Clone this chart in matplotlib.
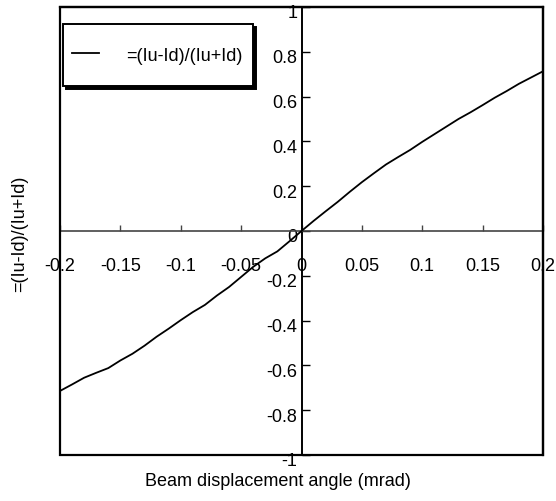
import matplotlib
matplotlib.use("Agg")
import numpy as np
import matplotlib.pyplot as plt
from matplotlib.patches import Rectangle
from matplotlib.transforms import ScaledTranslation
from matplotlib.legend_handler import HandlerLine2D
from matplotlib.lines import Line2D

plt.rcParams['font.family'] = ['Liberation Sans', 'DejaVu Sans']
plt.rcParams['axes.unicode_minus'] = False

# Data
angle = [-0.20, -0.19, -0.18, -0.17, -0.16, -0.15, -0.14, -0.13, -0.12, -0.11,
         -0.10, -0.09, -0.08, -0.07, -0.06, -0.05, -0.04, -0.03, -0.02, -0.01,
         0.00, 0.01, 0.02, 0.03, 0.04, 0.05, 0.06, 0.07, 0.08, 0.09,
         0.10, 0.11, 0.12, 0.13, 0.14, 0.15, 0.16, 0.17, 0.18, 0.19, 0.20]
ratio = [-0.714, -0.685, -0.655, -0.633, -0.612, -0.578, -0.548, -0.512, -0.472, -0.436,
         -0.398, -0.362, -0.330, -0.288, -0.250, -0.205, -0.160, -0.122, -0.091, -0.046,
         0.000, 0.045, 0.088, 0.130, 0.175, 0.218, 0.258, 0.297, 0.330, 0.362,
         0.398, 0.432, 0.466, 0.500, 0.530, 0.562, 0.595, 0.625, 0.657, 0.685, 0.713]

xticks = [-0.2, -0.15, -0.1, -0.05, 0, 0.05, 0.1, 0.15, 0.2]
xticklabels = ['-0.2', '-0.15', '-0.1', '-0.05', '0', '0.05', '0.1', '0.15', '0.2']
yticks = [-1, -0.8, -0.6, -0.4, -0.2, 0, 0.2, 0.4, 0.6, 0.8, 1]
yticklabels = ['-1', '-0.8', '-0.6', '-0.4', '-0.2', '0', '0.2', '0.4', '0.6', '0.8', '1']
series_label = '=(Iu-Id)/(Iu+Id)'
xlabel = 'Beam displacement angle (mrad)'


class LoweredLineHandler(HandlerLine2D):
    def create_artists(self, legend, orig_handle, xdescent, ydescent, width,
                       height, fontsize, trans):
        arts = super().create_artists(legend, orig_handle, xdescent, ydescent,
                                      width, height, fontsize, trans)
        for a in arts:
            a.set_ydata(np.asarray(a.get_ydata(), dtype=float) - 4.5)
        return arts


FS = 13
W, H = 556, 502
fig = plt.figure(figsize=(W / 100, H / 100), dpi=100)
L, R, T, B = 60, 543, 8, 456
ax = fig.add_axes([L / W, 1 - B / H, (R - L) / W, (B - T) / H])

ax.plot(angle, ratio, color='black', lw=1.3, label=series_label, zorder=3)
ax.set_xlim(-0.2, 0.2)
ax.set_ylim(-1, 1)

# centre axes
ax.spines['left'].set_position(('data', 0))
ax.spines['bottom'].set_position(('data', 0))
ax.spines['left'].set_linewidth(1.4)
ax.spines['left'].set_color('black')
ax.spines['bottom'].set_linewidth(1.2)
ax.spines['bottom'].set_color('#444444')
ax.spines['top'].set_linewidth(1.6)
ax.spines['right'].set_linewidth(1.6)
ax.add_patch(Rectangle((0, 0), 1, 1, transform=ax.transAxes, fill=False,
                       lw=1.6, ec='black', clip_on=False, zorder=4))

ax.set_xticks(xticks)
ax.set_xticklabels(xticklabels)
ax.set_yticks(yticks)
ax.set_yticklabels(yticklabels)
ax.tick_params(axis='x', direction='in', length=4, width=1, color='#444444',
               pad=19, labelsize=FS)
ax.tick_params(axis='y', direction='in', length=6, width=1, color='black',
               pad=3, labelsize=FS)
off = ScaledTranslation(0, -4 / 100, fig.dpi_scale_trans)
for lab in ax.get_yticklabels():
    lab.set_transform(lab.get_transform() + off)

top = (B - 25) / (B - T)
leg = ax.legend(loc='upper left',
                bbox_to_anchor=((63 - L) / (R - L), top - 0.1, 190 / (R - L), 0.1),
                mode='expand', borderaxespad=0, fontsize=FS, handlelength=1.5,
                handletextpad=1.5, borderpad=0.5, handleheight=3.4,
                fancybox=False, frameon=True,
                handler_map={Line2D: LoweredLineHandler()},
                shadow={'facecolor': 'black', 'edgecolor': 'black', 'alpha': 1.0})
leg.get_frame().set_edgecolor('black')
leg.get_frame().set_linewidth(1.4)
leg.get_frame().set_alpha(1)

fig.text(0.5, 1 - 482 / H, xlabel, ha='center', va='center', fontsize=FS)
fig.text(20 / W, 1 - 234 / H, series_label, ha='center', va='center',
         rotation=90, fontsize=FS)

fig.savefig('out.png', dpi=100)
